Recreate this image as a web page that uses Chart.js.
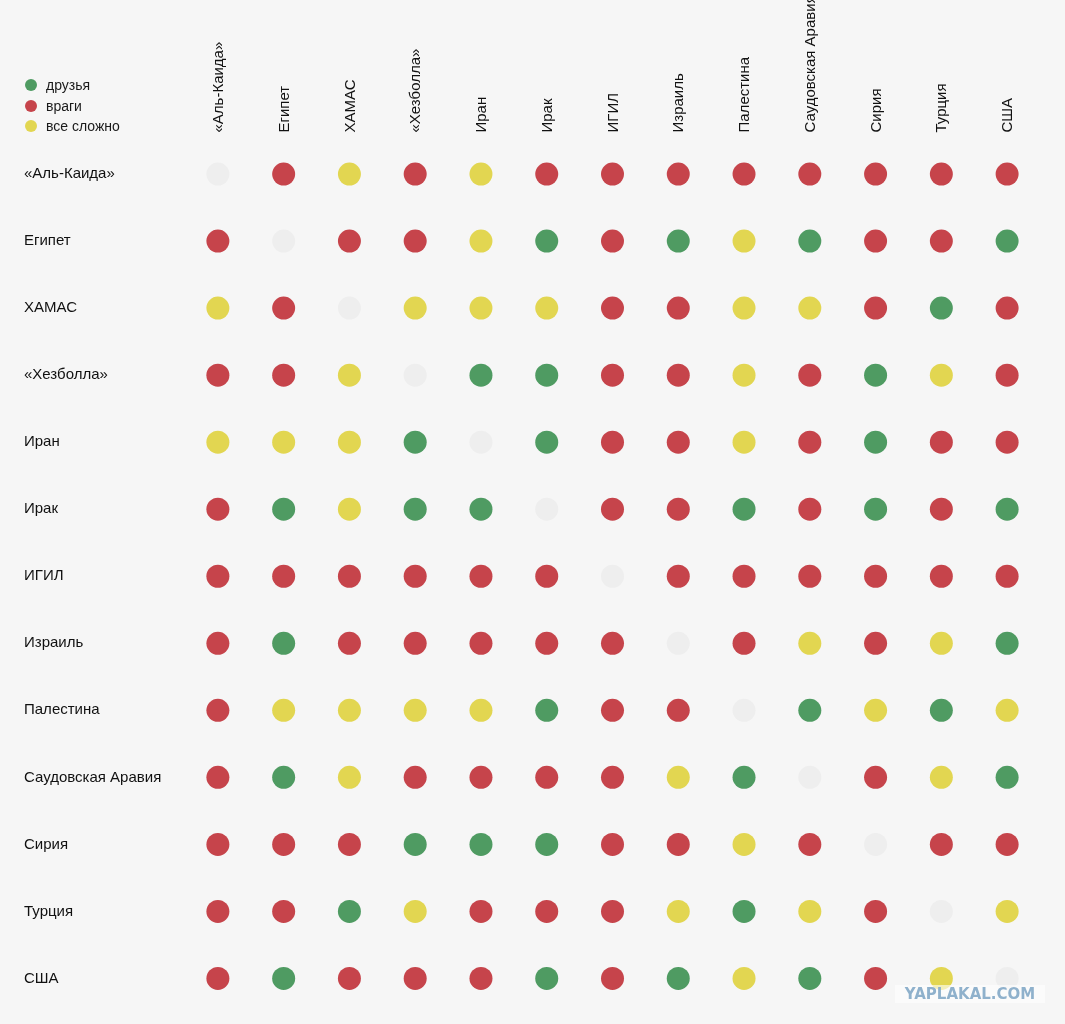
<!DOCTYPE html>
<html lang="ru">
<head>
<meta charset="utf-8">
<title>Кто с кем дружит</title>
<script src="https://cdn.jsdelivr.net/npm/chart.js@4/dist/chart.umd.min.js"></script>
<style>
  html, body { margin: 0; padding: 0; background: #f6f6f6; }
  body { position: relative; width: 1065px; height: 1024px; overflow: hidden;
         font-family: "Liberation Sans", Arial, sans-serif; }
  #chart { position: absolute; left: 0; top: 0; }
  #legend { position: absolute; left: 25px; top: 75px; font-size: 14px; color: #1a1a1a; }
  #legend .item { display: flex; align-items: center; height: 20.5px; }
  #legend .dot { width: 12px; height: 12px; border-radius: 50%; margin-right: 9px; }
  #mark { position: absolute; left: 895px; top: 985px; width: 150px; height: 18px;
          background: rgba(255, 255, 255, 0.6); color: #8fb1cc; text-align: center;
          font: bold 15px "DejaVu Sans", sans-serif; line-height: 18px; }
</style>
</head>
<body>
<canvas id="chart" width="1065" height="1024"></canvas>
<div id="legend"></div>
<div id="mark">YAPLAKAL.COM</div>
<script>
(() => {
  'use strict'

  const countries = [
    '«Аль-Каида»', 'Египет', 'ХАМАС', '«Хезболла»', 'Иран', 'Ирак', 'ИГИЛ',
    'Израиль', 'Палестина', 'Саудовская Аравия', 'Сирия', 'Турция', 'США'
  ]

  // g = друзья, r = враги, y = все сложно, - = сама с собой
  const relations = [
    '-ryryrrrrrrrr',
    'r-rrygrgygrrg',
    'yr-yyyrryyrgr',
    'rry-ggrryrgyr',
    'yyyg-grryrgrr',
    'rgygg-rrgrgrg',
    'rrrrrr-rrrrrr',
    'rgrrrrr-ryryg',
    'ryyyygrr-gygy',
    'rgyrrrryg-ryg',
    'rrrgggrryr-rr',
    'rrgyrrrygyr-y',
    'rgrrrgrgygry-'
  ]

  const statusCodes = ['g', 'r', 'y', '-']
  const statusLabels = ['друзья', 'враги', 'все сложно', '']
  const statusColors = ['#4f9b62', '#c6444b', '#e2d651', '#eeeeee']

  const datasets = statusCodes.map((code, s) => ({
    label: statusLabels[s],
    data: [],
    backgroundColor: statusColors[s],
    borderWidth: 0,
    pointRadius: 11.5,
    pointHoverRadius: 11.5
  }))

  relations.forEach((row, r) => {
    Array.from(row).forEach((c, col) => {
      datasets[statusCodes.indexOf(c)].data.push({ x: countries[col], y: countries[r] })
    })
  })

  // legend
  const legend = document.getElementById('legend')
  statusLabels.slice(0, 3).forEach((label, i) => {
    const item = document.createElement('div')
    item.className = 'item'
    item.innerHTML = '<span class="dot" style="background:' + statusColors[i] + '"></span>' + label
    legend.appendChild(item)
  })

  const tickFont = { family: '"Liberation Sans", Arial, sans-serif', size: 15 }

  new Chart(document.getElementById('chart'), {
    type: 'scatter',
    data: { datasets },
    options: {
      responsive: false,
      animation: false,
      layout: { padding: { left: 24, right: 25, top: 0, bottom: 9 } },
      plugins: {
        legend: { display: false },
        tooltip: { enabled: false }
      },
      scales: {
        x: {
          type: 'category',
          labels: countries,
          position: 'top',
          offset: true,
          grid: { display: false, drawTicks: false },
          border: { display: false },
          ticks: {
            autoSkip: false,
            minRotation: 90,
            maxRotation: 90,
            padding: 8,
            labelOffset: 19,
            color: '#111',
            font: tickFont
          },
          afterFit: (scale) => { scale.height = 140.5 }
        },
        y: {
          type: 'category',
          labels: countries,
          offset: true,
          grid: { display: false, drawTicks: false },
          border: { display: false },
          ticks: {
            autoSkip: false,
            crossAlign: 'far',
            color: '#111',
            font: tickFont
          },
          afterFit: (scale) => { scale.width = 161 }
        }
      }
    }
  })
})()
</script>
</body>
</html>
